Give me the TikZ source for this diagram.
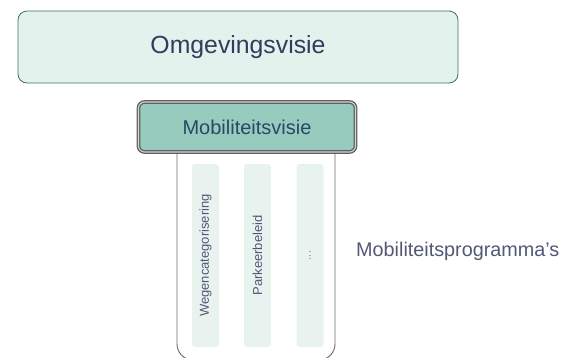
\documentclass[tikz,border=0pt]{standalone}
\usepackage{fontspec}
\setmainfont{Liberation Sans}
\definecolor{topfill}{HTML}{E4F2EE}
\definecolor{topdraw}{HTML}{3F6E70}
\definecolor{visfill}{HTML}{96CBBE}
\definecolor{colfill}{HTML}{E8F3F0}
\definecolor{txt}{HTML}{323C5C}
\definecolor{ushape}{HTML}{6A6A6A}
\begin{document}
\begin{tikzpicture}[x=1pt,y=-1pt,
  topbox/.style={draw=topdraw,line width=0.8pt,fill=topfill,rounded corners=9pt,minimum width=440pt,minimum height=72pt,inner sep=0pt,text=txt,font=\fontsize{24.8}{28}\selectfont},
  visbox/.style={draw=ushape!90!black,line width=1.3pt,double=gray!35,double distance=1.1pt,fill=visfill,rounded corners=6pt,minimum width=217pt,minimum height=50pt,inner sep=0pt,text=txt!80!teal,font=\fontsize{20}{22}\selectfont},
  colbox/.style={fill=colfill,rounded corners=3pt,minimum width=183pt,minimum height=27pt,inner sep=0pt,rotate=90,text=txt!85,font=\fontsize{13}{15}\selectfont},
  lbl/.style={text=txt!85,font=\fontsize{19.8}{23}\selectfont,anchor=west,inner sep=0pt}]
\useasboundingbox (0,0) rectangle (566,357);
\draw[ushape,line width=0.9pt,rounded corners=16pt] (177,150) -- (177,360) -- (335,360) -- (335,150);
\node[topbox] (omg) at (238,47) {Omgevingsvisie};
\node[visbox] (vis) at (247,127) {Mobiliteitsvisie};
\node[colbox] (c1) at (205.5,255.5) {Wegencategorisering};
\node[colbox] (c2) at (257.5,255.5) {Parkeerbeleid};
\node[colbox] (c3) at (310,255.5) {\textcolor{gray}{\fontsize{11}{12}\selectfont...}};
\node[lbl] (prog) at (356,251) {Mobiliteitsprogramma’s};
\end{tikzpicture}
\end{document}
